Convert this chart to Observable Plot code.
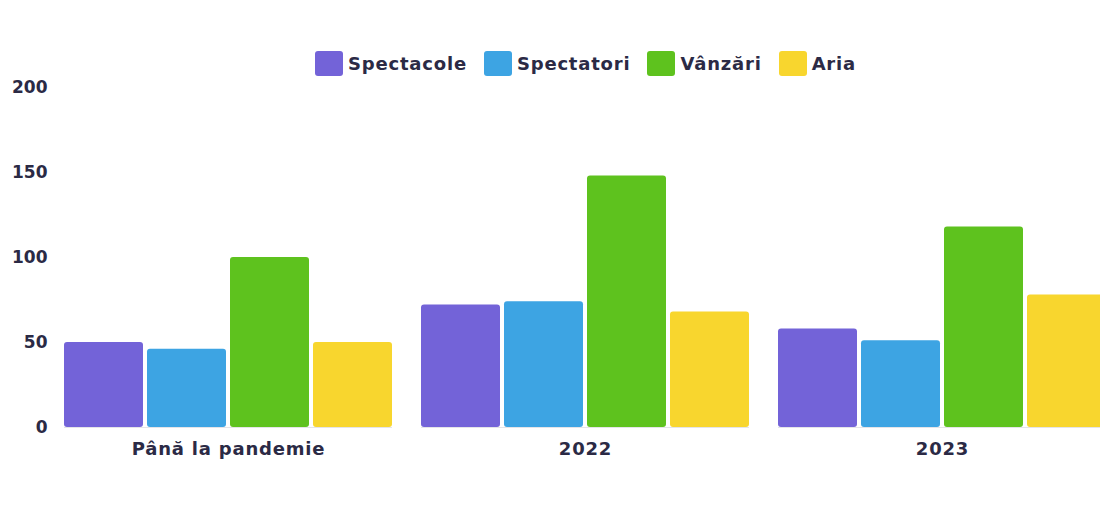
<!DOCTYPE html>
<html>
<head>
<meta charset="utf-8">
<script src="https://cdn.jsdelivr.net/npm/d3@7"></script>
<script src="https://cdn.jsdelivr.net/npm/@observablehq/plot@0.6"></script>
<style>
  html, body { margin: 0; padding: 0; background: #ffffff; overflow: hidden; width: 1100px; height: 506px; }
  body { font-family: "DejaVu Sans", sans-serif; color: #2b2a45; }
  #legend { width: 1045px; margin-left: 63px; height: 80px; box-sizing: border-box; padding-top: 50px;
            display: flex; justify-content: center; align-items: flex-start; gap: 17px; }
  .item { display: flex; align-items: center; gap: 5px; font-weight: 700; font-size: 18px; letter-spacing: 0.8px; height: 26px; }
  .sw { width: 28px; height: 25px; border-radius: 3px; display: inline-block; }
  #chart svg { display: block; overflow: visible; max-width: none !important; }
  #chart svg g[aria-label="fx-axis tick label"] text { letter-spacing: 0.8px; }
</style>
</head>
<body>
<div id="legend"></div>
<div id="chart"></div>
<script>
const categories = ["Până la pandemie", "2022", "2023"];
const series = ["Spectacole", "Spectatori", "Vânzări", "Aria"];
const spectacole = [50, 72, 58];
const spectatori = [46, 74, 51];
const vanzari = [100, 148, 118];
const aria = [50, 68, 78];
const yTicks = [0, 50, 100, 150, 200];
const colors = ["#7363d8", "#3da4e3", "#5ec21e", "#f8d62e"];

const valuesBySeries = [spectacole, spectatori, vanzari, aria];
const data = [];
categories.forEach((c, i) => {
  series.forEach((s, j) => {
    data.push({category: c, series: s, value: valuesBySeries[j][i]});
  });
});

const legend = document.getElementById("legend");
series.forEach((s, j) => {
  const it = document.createElement("div");
  it.className = "item";
  const sw = document.createElement("span");
  sw.className = "sw";
  sw.style.background = colors[j];
  const t = document.createElement("span");
  t.textContent = s;
  it.appendChild(sw);
  it.appendChild(t);
  legend.appendChild(it);
});

const chart = Plot.plot({
  width: 1110,
  height: 426,
  marginLeft: 63,
  marginRight: 2,
  marginTop: 7,
  marginBottom: 79,
  style: {fontFamily: "'DejaVu Sans', sans-serif", fontSize: "17px", fontWeight: 700, color: "#2b2a45", background: "transparent", maxWidth: "none"},
  fx: {domain: categories, paddingInner: 0.08, paddingOuter: 0, label: null},
  x: {domain: series, paddingInner: 0.05, paddingOuter: 0, axis: null},
  y: {domain: [0, 200], label: null},
  color: {domain: series, range: colors},
  marks: [
    Plot.axisY({ticks: yTicks, tickSize: 0, tickPadding: 17, label: null, fontWeight: 700}),
    Plot.axisFx({anchor: "bottom", tickSize: 0, tickPadding: 15, label: null, fontWeight: 700, fontSize: 18}),
    Plot.ruleY([0], {stroke: "#e4e4e8", strokeWidth: 1}),
    Plot.barY(data, {fx: "category", x: "series", y: "value", fill: "series", rx: 3})
  ]
});
document.getElementById("chart").appendChild(chart);
</script>
</body>
</html>
